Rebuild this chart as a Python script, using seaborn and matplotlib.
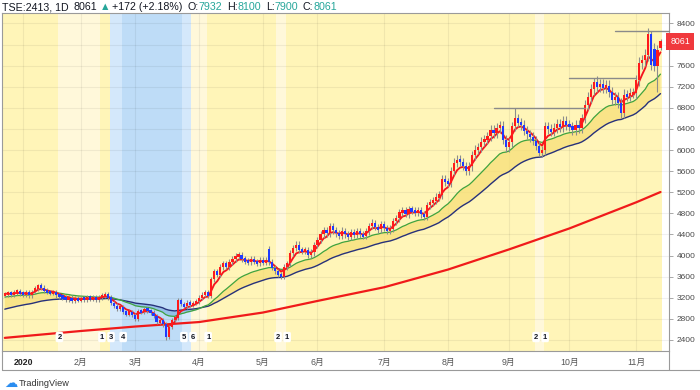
import numpy as np
import pandas as pd
import matplotlib
matplotlib.use("Agg")
import matplotlib.pyplot as plt
import matplotlib.transforms as mtransforms
from matplotlib.lines import Line2D
import seaborn as sns

# ---------------------------------------------------------------
# 日足データ TSE:2413 (2019-12-23 〜 2020-11-13)
# ---------------------------------------------------------------
holidays = ["2019-12-31", "2020-01-01", "2020-01-02", "2020-01-03", "2020-01-13",
            "2020-02-11", "2020-02-24", "2020-03-20", "2020-04-29", "2020-05-04",
            "2020-05-05", "2020-05-06", "2020-07-23", "2020-07-24", "2020-08-10",
            "2020-09-21", "2020-09-22", "2020-11-03"]

close_dec = [3260, 3290, 3260, 3300, 3320, 3280]
close_jan = [3270, 3300, 3250, 3310, 3380, 3430, 3390, 3330, 3310, 3290,
             3300, 3250, 3230, 3200, 3160, 3200, 3140, 3190, 3160]
close_feb = [3190, 3170, 3210, 3180, 3200, 3170, 3210, 3240, 3260, 3210,
             3100, 3050, 2990, 3030, 2930, 2890, 2930, 2870]
close_mar = [2800, 2950, 2930, 2990, 2950, 2920, 2850, 2740, 2770, 2700,
             2450, 2640, 2780, 2820, 3150, 3080, 3040, 3110, 3060, 3100, 3130]
close_apr = [3200, 3260, 3310, 3240, 3550, 3700, 3640, 3790, 3850, 3790,
             3880, 3930, 3990, 4010, 3930, 3900, 3870, 3930, 3890, 3860, 3910]
close_may = [3880, 3910, 3880, 3770, 3700, 3640, 3600, 3780, 3850, 4050,
             4150, 4210, 4110, 4080, 4110, 4010, 4060, 4200]
close_jun = [4300, 4400, 4480, 4420, 4560, 4480, 4420, 4380, 4470, 4400, 4360,
             4440, 4390, 4460, 4400, 4370, 4460, 4560, 4620, 4540, 4500, 4590]
close_jul = [4520, 4470, 4510, 4650, 4710, 4820, 4860, 4790, 4880, 4850, 4820,
             4860, 4780, 4740, 4950, 5010, 5040, 5110, 5150, 5450, 5400]
close_aug = [5380, 5600, 5760, 5820, 5770, 5700, 5610, 5690, 5900, 6010,
             6050, 6160, 6200, 6260, 6380, 6320, 6420, 6460, 6200, 6050]
close_sep = [6150, 6450, 6600, 6520, 6480, 6370, 6300, 6250, 6180, 6080,
             5950, 6000, 6450, 6400, 6350, 6420, 6500, 6440, 6550, 6480]
close_oct = [6450, 6380, 6480, 6420, 6600, 6850, 7000, 7150, 7300, 7200, 7250,
             7180, 7220, 7100, 6950, 7000, 6900, 6700, 7050, 7030, 7080, 7080]
close_nov = [7330, 7650, 7700, 7800, 8200, 7620, 7600, 7889, 8061]

# 窓開け・目立つヒゲ
gap_opens = {"2020-05-08": 4130, "2020-11-11": 7920, "2020-11-13": 7932}
highs = {"2020-01-14": 3470, "2020-09-03": 6800, "2020-10-13": 7360,
         "2020-11-10": 8260, "2020-11-13": 8100, "2020-03-24": 3200}
lows = {"2020-03-16": 2400, "2020-03-13": 2650, "2020-11-12": 7100,
        "2020-11-13": 7900, "2020-10-27": 6600, "2020-09-15": 5880}

# 移動平均の初期値 (チャート左端で読み取り)
ema_fast_seed, ema_mid_seed, ema_slow_seed = 3280, 3210, 2970

# 長期移動平均 (太い赤線)
long_ma_dates = ["2019-12-23", "2020-02-03", "2020-03-02", "2020-04-01", "2020-05-01",
                 "2020-06-01", "2020-07-01", "2020-08-03", "2020-09-01", "2020-10-01",
                 "2020-11-02", "2020-11-13"]
long_ma_values = [2440, 2570, 2655, 2740, 2920, 3140, 3400, 3735, 4115, 4515, 5010, 5205]

# 背景の区間 (開始日と状態番号)
stripe_dates = ["2019-12-23", "2020-01-23", "2020-02-13", "2020-02-18", "2020-02-25",
                "2020-03-25", "2020-03-30", "2020-04-06", "2020-05-13", "2020-05-18",
                "2020-09-14", "2020-09-17"]
stripe_states = [1, 2, 1, 3, 4, 5, 6, 1, 2, 1, 2, 1]

# 水平線 (開始日, 終了日, 価格)
hlines = [("2020-08-25", "2020-10-08", 6800),
          ("2020-10-01", "2020-11-02", 7360),
          ("2020-10-22", None, 8260)]

month_labels = ["2020", "2月", "3月", "4月", "5月", "6月", "7月", "8月", "9月", "10月", "11月"]
price_ticks = list(range(2400, 8401, 400))

# ---------------------------------------------------------------
# データ整形
# ---------------------------------------------------------------
days = pd.bdate_range("2019-12-23", "2020-11-13")
days = days[~days.isin(pd.to_datetime(holidays))]
closes = np.array(close_dec + close_jan + close_feb + close_mar + close_apr + close_may
                  + close_jun + close_jul + close_aug + close_sep + close_oct + close_nov,
                  dtype=float)
pos = {d.strftime("%Y-%m-%d"): i for i, d in enumerate(days)}
idx = np.arange(len(days))

opens = np.r_[closes[0], closes[:-1]]
for d, v in gap_opens.items():
    opens[pos[d]] = v
pad = closes * 0.014
hi = np.maximum(opens, closes) + pad
lo = np.minimum(opens, closes) - pad
for d, v in highs.items():
    hi[pos[d]] = v
for d, v in lows.items():
    lo[pos[d]] = v


def ema(values, span, seed):
    a = 2.0 / (span + 1)
    out, e = [], seed
    for v in values:
        e = a * v + (1 - a) * e
        out.append(e)
    return np.array(out)


ema_fast = ema(closes, 5, ema_fast_seed)
ema_mid = ema(closes, 20, ema_mid_seed)
ema_slow = ema(closes, 40, ema_slow_seed)

# ---------------------------------------------------------------
# 描画
# ---------------------------------------------------------------
sns.set_theme(style="white")
plt.rcParams["font.family"] = ["Liberation Sans", "Noto Sans CJK JP", "DejaVu Sans"]

W, H = 700, 390
fig = plt.figure(figsize=(7, 3.9), dpi=100)
ax = fig.add_axes([2 / W, 1 - 351 / H, 667 / W, 338 / H])
x_left, x_right = -0.92, 218.8
ax.set_xlim(x_left, x_right)
ax.set_ylim(2191, 8599)

state_colors = {1: "#fff5b8", 2: "#fff8da", 3: "#d4e8fb", 4: "#bedcf7", 5: "#d4e8fb", 6: "#fff8da"}
starts = [pos[d] for d in stripe_dates]
for k, (s, st) in enumerate(zip(starts, stripe_states)):
    a = x_left if k == 0 else s - 0.5
    b = starts[k + 1] - 0.5 if k + 1 < len(starts) else idx[-1] + 0.5
    ax.axvspan(a, b, color=state_colors[st], lw=0, zorder=0)
    if k > 0:
        ax.text(s, 2456, str(st), ha="center", va="center", fontsize=5.5,
                fontweight="bold", color="#131722", zorder=6,
                bbox=dict(boxstyle="round,pad=0.22", fc="white", ec="none"))

month_pos = [pos[d.strftime("%Y-%m-%d")] for d in
             pd.Series(days).groupby([days.year, days.month]).first()][1:]
for m in month_pos:
    ax.axvline(m, color="#000000", alpha=0.06, lw=0.8, zorder=0.5)
for p in price_ticks:
    ax.axhline(p, color="#000000", alpha=0.06, lw=0.8, zorder=0.5)

# 移動平均リボン
ax.fill_between(idx, ema_mid, ema_slow, where=ema_mid >= ema_slow, interpolate=True,
                color="#f7df78", alpha=0.75, lw=0, zorder=1)
ax.fill_between(idx, ema_mid, ema_slow, where=ema_mid < ema_slow, interpolate=True,
                color="#78aee0", alpha=0.6, lw=0, zorder=1)

long_x = [pos[d] for d in long_ma_dates]
sns.lineplot(x=long_x, y=long_ma_values, ax=ax, color="#f01a1a", lw=1.6, zorder=2)
sns.lineplot(x=idx, y=ema_slow, ax=ax, color="#27317a", lw=1.0, zorder=2)
sns.lineplot(x=idx, y=ema_mid, ax=ax, color="#3fa33f", lw=0.9, zorder=2)
sns.lineplot(x=idx, y=ema_fast, ax=ax, color="#f5141e", lw=1.35, zorder=3)

# ローソク足 (移動平均線の上に描く)
up = closes >= opens
body_h = np.maximum(np.abs(closes - opens), 60)
body_b = np.where(np.abs(closes - opens) < 60, (opens + closes) / 2 - 30, np.minimum(opens, closes))
ax.vlines(idx, lo, hi, color="#8c8c8c", lw=0.8, zorder=4)
ax.bar(idx, body_h, bottom=body_b, width=0.72,
       color=np.where(up, "#ff1a1a", "#1f3bff"), lw=0, zorder=4.5)

for d0, d1, v in hlines:
    xa = pos[d0]
    xb = pos[d1] if d1 else x_right
    ax.plot([xa, xb], [v, v], color="#8a8a8a", lw=1.0, zorder=5, clip_on=False)

# 軸
last = closes[-1]
ax.yaxis.tick_right()
ax.set_yticks(price_ticks)
# 8000 は現在値ラベルに隠れる
ax.set_yticklabels(["" if abs(p - last) < 150 else str(p) for p in price_ticks],
                   fontsize=6, color="#4a4a4a")
ax.tick_params(axis="y", length=3, width=0.6, color="#9a9a9a", pad=2.5)
ax.set_xticks(month_pos)
ax.set_xticklabels(month_labels, fontsize=6.3, color="#555555")
ax.get_xticklabels()[0].set_color("#222222")
ax.get_xticklabels()[0].set_fontweight("bold")
ax.tick_params(axis="x", length=2, width=0.6, color="#9a9a9a", pad=3)
for sp in ax.spines.values():
    sp.set_color("#9a9a9a")
    sp.set_linewidth(0.8)
ax.set_xlabel("")
ax.set_ylabel("")

ax.text(1.002, last, f"{int(last)}", transform=mtransforms.blended_transform_factory(ax.transAxes, ax.transData),
        ha="left", va="center", fontsize=6.3, color="white", zorder=7,
        bbox=dict(boxstyle="square,pad=0.45", fc="#f0393d", ec="none"))


def px(x, y):
    return x / W, 1 - y / H


for seg in [((2, 351), (2, 370)), ((669, 351), (669, 370)), ((2, 370), (700, 370))]:
    (xa, ya), (xb, yb) = seg
    p0, p1 = px(xa, ya), px(xb, yb)
    fig.add_artist(Line2D([p0[0], p1[0]], [p0[1], p1[1]], color="#9a9a9a", lw=0.8))

# ヘッダー
teal = "#26a69a"
change = closes[-1] - closes[-2]
pct = change / closes[-2] * 100
o_last, h_last, l_last = opens[-1], hi[-1], lo[-1]
pieces = [("TSE:2413, 1D  ", "#131722"), (f"{int(last)}", "#131722"), (" ▲ ", teal),
          (f"+{int(change)} (+{pct:.2f}%)", "#131722"), ("  O:", "#131722"), (f"{int(o_last)}", teal),
          ("  H:", "#131722"), (f"{int(h_last)}", teal), ("  L:", "#131722"), (f"{int(l_last)}", teal),
          ("  C:", "#131722"), (f"{int(last)}", teal)]
renderer = fig.canvas.get_renderer()
xcur = 2.5
for s, col in pieces:
    lead = len(s) - len(s.lstrip(" "))
    trail = len(s) - len(s.rstrip(" "))
    xcur += lead * 2.3
    t = fig.text(*px(xcur, 7.5), s.strip(), color=col, fontsize=7.7, va="center", ha="left",
                 family=["Liberation Sans", "DejaVu Sans"])
    xcur += t.get_window_extent(renderer).width + trail * 2.3

# ロゴ
fig.text(*px(4, 383), "☁", color="#2a8df0", fontsize=9.5, va="center", ha="left", family="DejaVu Sans")
fig.text(*px(19, 383), "TradingView", color="#333333", fontsize=6.6, va="center", ha="left")

fig.savefig("out.png", dpi=100, facecolor="white")
